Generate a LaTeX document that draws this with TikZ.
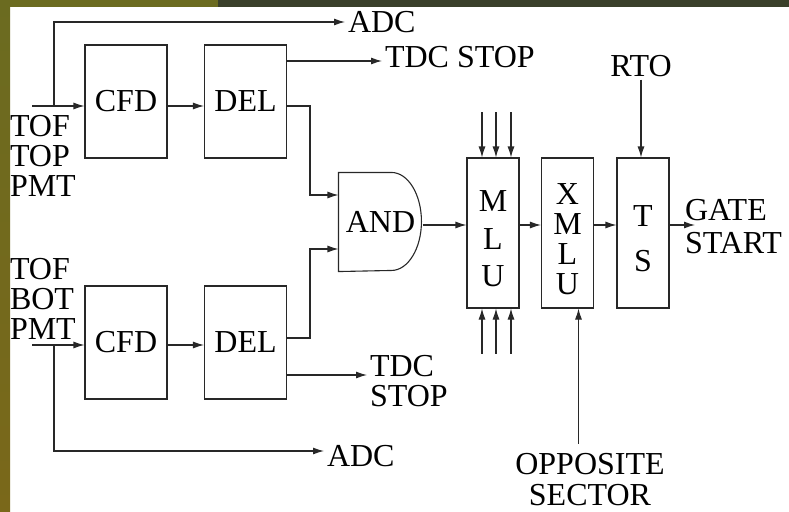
\documentclass[tikz,border=0pt]{standalone}
\usepackage{fontspec}
\setmainfont{Liberation Serif}
\usepackage{tikz}
\usetikzlibrary{arrows.meta,calc}

\definecolor{olivebar}{RGB}{107,107,32}
\definecolor{goldbar}{RGB}{122,104,26}
\definecolor{darkbar}{RGB}{58,64,42}
\definecolor{wire}{RGB}{40,40,40}

\begin{document}
\begin{tikzpicture}[x=1pt,y=-1pt,
    blk/.style={draw=wire, line width=1.1pt, inner sep=0pt, minimum width=82pt, minimum height=113pt, font=\fontsize{32}{30}\selectfont},
    tall/.style={draw=wire, line width=1.1pt, inner sep=0pt, minimum width=52pt, minimum height=150pt, align=center, font=\fontsize{32}{30}\selectfont},
    lbl/.style={inner sep=0pt, outer sep=3pt, align=left, font=\fontsize{32}{30}\selectfont},
    sig/.style={draw=wire, line width=1.1pt, -{Latex[length=11pt,width=7pt]}}]
    \useasboundingbox (0,0) rectangle (789,511);

    % Frame bars
    \shade[top color=olivebar, bottom color=goldbar] (0,0) rectangle (10,511);
    \fill[olivebar] (0,0) rectangle (218,7);
    \fill[darkbar] (218,0) rectangle (789,7);

    % Blocks
    \node[blk] (cfdT) at (126,101.5) {CFD};
    \node[blk] (delT) at (245.5,101.5) {DEL};
    \node[blk] (cfdB) at (126,342.5) {CFD};
    \node[blk] (delB) at (245.5,342.5) {DEL};
    \node[blk, draw=none, minimum width=83pt, minimum height=98pt] (andg) at (380.5,222) {AND};
    \draw[wire, line width=1.1pt] (andg.north west) -- ++(53,0)
        arc[start angle=-90, end angle=90, x radius=30, y radius=49] -- (andg.south west) -- cycle;
    \node[tall] (mlu) at (493,233) {\rule{0pt}{33pt}M\\[7.5pt]L\\[7.5pt]U};
    \node[tall] (xmlu) at (567.5,233) {\rule{0pt}{33pt}X\\M\\L\\U};
    \node[tall] (ts) at (643,233) {\rule{0pt}{33pt}T\\[15pt]S};

    % Labels
    \node[lbl, anchor=north west] (tofT) at (7,112) {TOF\\TOP\\PMT};
    \node[lbl, anchor=north west] (tofB) at (7,255) {TOF\\BOT\\PMT};
    \node[lbl, anchor=west] (adcT) at (345,22) {ADC};
    \node[lbl, anchor=north west] (tdcT) at (382,43) {TDC STOP};
    \node[lbl, anchor=north west] (tdcB) at (367,352) {TDC\\STOP};
    \node[lbl, anchor=north west] (adcB) at (324,442) {ADC};
    \node[lbl, anchor=north] (rto) at (641,52) {RTO};
    \node[lbl, anchor=north west] (gate) at (682,196) {GATE\\[3pt]START};
    \node[lbl, anchor=north, align=center] (opp) at (590,450) {OPPOSITE\\[1pt]SECTOR};

    % Branch points and levels
    \coordinate (inT) at (32,106);
    \coordinate (inB) at (32,345);
    \coordinate (tapT) at (54,106);
    \coordinate (tapB) at (54,345);
    \coordinate (jogT) at (310,195);
    \coordinate (jogB) at (310,249);
    \coordinate (lvT) at (0,61);   % TDC STOP top
    \coordinate (lvB) at (0,375);  % TDC STOP bottom
    \coordinate (lvD) at (0,338);  % DEL bottom to AND
    \coordinate (lvM) at (0,225);  % main chain
    \coordinate (lvA) at (0,451);  % ADC bottom

    % Signal paths
    \draw[sig] (inT) -- (inT -| cfdT.west);
    \draw[sig] (inB) -- (inB -| cfdB.west);
    \draw[sig] (cfdT.east |- inT) -- (delT.west |- inT);
    \draw[sig] (cfdB.east |- inB) -- (delB.west |- inB);
    \draw[sig] (tapT) |- (adcT.west);
    \draw[sig] (tapB) |- (adcB.west |- lvA);
    \draw[sig] (delT.east |- lvT) -- (tdcT.west |- lvT);
    \draw[sig] (delB.east |- lvB) -- (tdcB.west |- lvB);
    \draw[sig] (delT.east |- inT) -| (jogT) -- (andg.west |- jogT);
    \draw[sig] (delB.east |- lvD) -| (jogB) -- (andg.west |- jogB);
    \draw[sig] (andg.east |- lvM) -- (mlu.west |- lvM);
    \draw[sig] (mlu.east |- lvM) -- (xmlu.west |- lvM);
    \draw[sig] (xmlu.east |- lvM) -- (ts.west |- lvM);
    \draw[sig] (ts.east |- lvM) -- ($(gate.west |- lvM)+(13,0)$);
    \foreach \dx [count=\i] in {-11,3,18} {
        \coordinate (mt\i) at ($(mlu.north)+(\dx,-45)$);
        \coordinate (mb\i) at ($(mlu.south)+(\dx,45)$);
        \draw[sig] (mt\i) -- (mt\i |- mlu.north);
        \draw[sig] (mb\i) -- (mb\i |- mlu.south);
    }
    \draw[sig] (rto.south) -- (rto.south |- ts.north);
    \coordinate (oppin) at ($(xmlu.south)+(11,135)$);
    \draw[sig] (oppin) -- (oppin |- xmlu.south);
\end{tikzpicture}
\end{document}
